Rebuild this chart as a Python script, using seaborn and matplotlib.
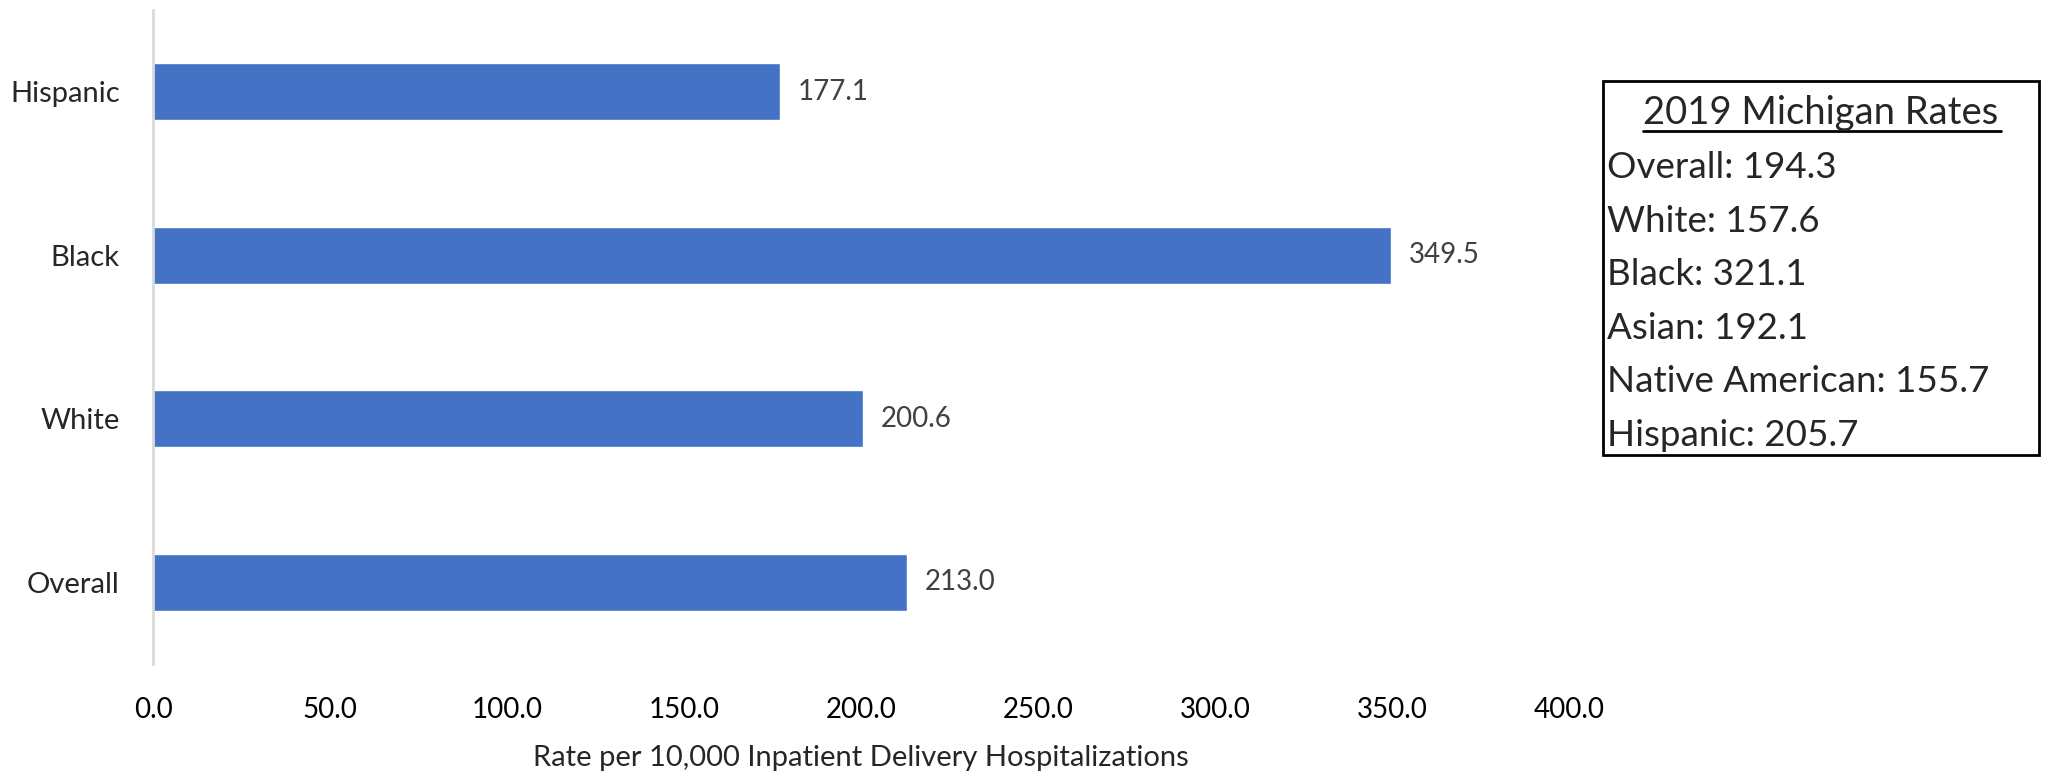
import matplotlib
matplotlib.use("Agg")
import matplotlib.pyplot as plt
import seaborn as sns
import pandas as pd
from matplotlib.patches import Rectangle
from matplotlib.lines import Line2D

categories = ["Hispanic", "Black", "White", "Overall"]
rates = [177.1, 349.5, 200.6, 213.0]
xticks = [0, 50, 100, 150, 200, 250, 300, 350, 400]
box_title = "2019 Michigan Rates"
box_lines = ["Overall: 194.3", "White: 157.6", "Black: 321.1", "Asian: 192.1",
             "Native American: 155.7", "Hispanic: 205.7"]

sns.set_style("white")
plt.rcParams['font.family'] = ['Lato', 'DejaVu Sans']

df = pd.DataFrame({"category": categories, "rate": rates})

fig = plt.figure(figsize=(20.49, 7.72), dpi=100)
ax = fig.add_axes([0.0747, 0.140, 0.6913, 0.847])
sns.barplot(data=df, x="rate", y="category", order=categories, color="#4472C4",
            width=0.35, saturation=1, ax=ax)
ax.set_xlim(0, 400)
ax.set_ylim(3.5, -0.5)
ax.set_xticks(xticks)
ax.set_xticklabels([f"{v:.1f}" for v in xticks], fontsize=20, color="#000000")
ax.tick_params(axis="y", labelsize=21, length=0, pad=24)
ax.tick_params(axis="x", length=0, pad=24)
ax.set_ylabel("")
ax.set_xlabel("Rate per 10,000 Inpatient Delivery Hospitalizations", fontsize=21, labelpad=16)
for s in ["top", "right", "bottom"]:
    ax.spines[s].set_visible(False)
ax.spines["left"].set_color("#D9D9D9")
ax.spines["left"].set_linewidth(2)

for i, v in enumerate(rates):
    ax.text(v + 5, i, f"{v:.1f}", va="center", ha="left", fontsize=20, color="#404040")

# text box
x0, x1 = 1603 / 2049, 2039 / 2049
y0, y1 = 1 - 455 / 772, 1 - 81 / 772
fig.patches.append(Rectangle((x0, y0), x1 - x0, y1 - y0, transform=fig.transFigure,
                             fill=False, edgecolor="black", linewidth=2))
cx = (x0 + x1) / 2
t_y = 1 - 113 / 772
fig.text(cx, t_y, box_title, ha="center", va="center", fontsize=27.5)
fig.lines.append(Line2D([1643 / 2049, 2001 / 2049], [1 - 131 / 772, 1 - 131 / 772],
                        transform=fig.transFigure, color="black", linewidth=2))
for k, line in enumerate(box_lines):
    yy = 1 - (168 + k * 53.5) / 772
    fig.text(1607 / 2049, yy, line, ha="left", va="center", fontsize=26.5)

fig.savefig("out.png", dpi=100)
